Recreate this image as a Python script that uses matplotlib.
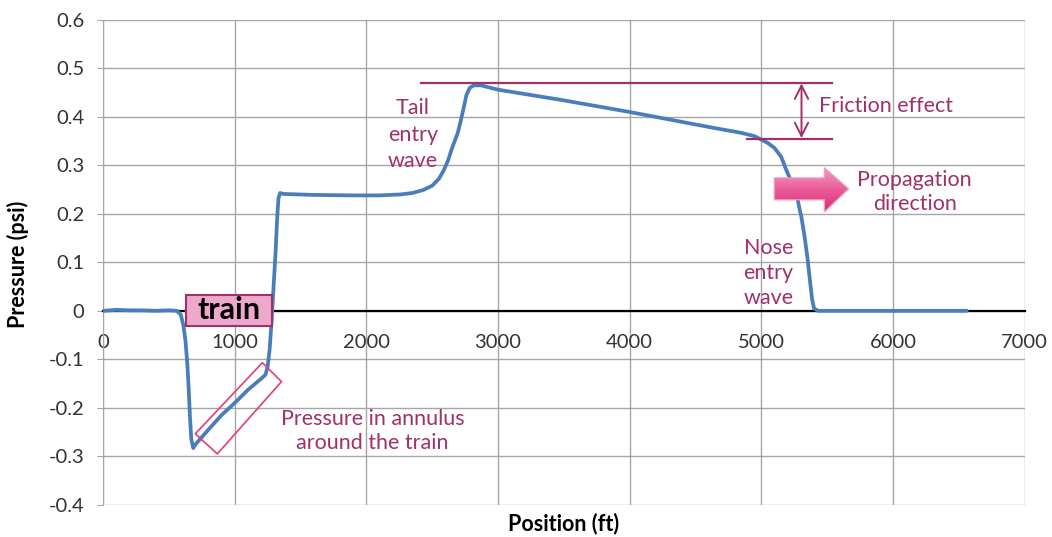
import matplotlib
matplotlib.use("Agg")
import matplotlib.pyplot as plt
import numpy as np
from matplotlib.patches import Polygon, Rectangle

plt.rcParams['font.family'] = ['Lato', 'DejaVu Sans']

# ---- data ----
position = [0, 100, 200, 300, 400, 500, 560, 590, 610, 625, 640, 650, 660, 670,
            685, 700, 800, 900, 1000, 1100, 1200, 1233, 1250, 1265, 1280, 1295,
            1310, 1322, 1332, 1345, 1370, 1600, 1900, 2100, 2260, 2350, 2430,
            2500, 2550, 2588, 2620, 2650, 2694, 2715, 2740, 2760, 2785, 2816,
            2869, 3000, 3478, 4000, 4642, 4848, 4950, 5000, 5050, 5099, 5150,
            5190, 5230, 5266, 5290, 5304, 5330, 5350, 5370, 5385, 5400, 5430,
            6000, 6560]
pressure = [0.0, 0.002, 0.001, 0.001, 0.0, 0.001, 0.0, -0.008, -0.03, -0.06,
            -0.11, -0.16, -0.22, -0.265, -0.283, -0.276, -0.245, -0.215, -0.19,
            -0.163, -0.14, -0.132, -0.115, -0.08, -0.02, 0.05, 0.12, 0.19, 0.232,
            0.243, 0.241, 0.239, 0.238, 0.238, 0.240, 0.243, 0.249, 0.258, 0.272,
            0.29, 0.31, 0.335, 0.367, 0.39, 0.42, 0.445, 0.46, 0.465, 0.465,
            0.456, 0.435, 0.41, 0.377, 0.367, 0.36, 0.353, 0.346, 0.336, 0.318,
            0.29, 0.265, 0.243, 0.21, 0.194, 0.15, 0.11, 0.06, 0.025, 0.005, 0.0,
            0.0, 0.0]

x_ticks = [0, 1000, 2000, 3000, 4000, 5000, 6000, 7000]
y_ticks = [-0.4, -0.3, -0.2, -0.1, 0, 0.1, 0.2, 0.3, 0.4, 0.5, 0.6]
y_ticklabels = ['-0.4', '-0.3', '-0.2', '-0.1', '0', '0.1', '0.2', '0.3', '0.4', '0.5', '0.6']

BLUE = '#4A7EBB'
MAG = '#A0306A'
PINK = '#E23D80'
ANN = 15.5

fig = plt.figure(figsize=(10.52, 5.37), dpi=100)
ax = fig.add_axes([0.098, 0.060, 0.876, 0.903])
ax.set_xlim(0, 7000)
ax.set_ylim(-0.4, 0.6)

ax.set_xticks(x_ticks)
ax.set_yticks(y_ticks)
ax.set_yticklabels(y_ticklabels)
ax.grid(True, color='#A6A6A6', linewidth=1.0)
ax.set_axisbelow(True)

for s in ['top', 'right']:
    ax.spines[s].set_visible(False)
ax.spines['left'].set_color('#A6A6A6')
ax.spines['bottom'].set_position(('data', 0))
ax.spines['bottom'].set_color('black')
ax.spines['bottom'].set_linewidth(1.6)
ax.tick_params(axis='x', length=0, pad=17, labelsize=14.5, labelcolor='#333333')
ax.tick_params(axis='y', length=4.5, color='#A6A6A6', direction='out', pad=9,
               labelsize=14.5, labelcolor='#333333')

ax.plot(position, pressure, color=BLUE, linewidth=2.7, zorder=3,
        solid_joinstyle='round', solid_capstyle='round')

ax.set_ylabel('Pressure (psi)', fontsize=15.5, fontweight='bold')
ax.yaxis.set_label_coords(-0.080, 0.495)
ax.text(0.5, -0.039, 'Position (ft)', transform=ax.transAxes, ha='center',
        va='center', fontsize=15.5, fontweight='bold')

# train label
ax.add_patch(Rectangle((632, -0.031), 654, 0.064, facecolor='#ECA9CB',
                       edgecolor=MAG, linewidth=1.5, zorder=5))
ax.text(959, 0.001, 'train', ha='center', va='center', fontsize=22,
        fontweight='bold', color='black', zorder=6)

# rotated box around annulus segment
box = Polygon([(700, -0.2536), (1210, -0.107), (1355, -0.146), (868, -0.295)],
              closed=True, fill=False, edgecolor=PINK, linewidth=1.2,
              joinstyle='round', zorder=4)
ax.add_patch(box)
ax.text(2047, -0.247, 'Pressure in annulus\naround the train', ha='center',
        va='center', fontsize=ANN, color=MAG, linespacing=1.25)

ax.text(2352, 0.363, 'Tail\nentry\nwave', ha='center', va='center',
        fontsize=ANN, color=MAG, linespacing=1.4)
ax.text(5053, 0.078, 'Nose\nentry\nwave', ha='center', va='center',
        fontsize=ANN, color=MAG, linespacing=1.3)

# friction effect lines
ax.plot([2412, 5533], [0.47, 0.47], color=MAG, linewidth=1.6, zorder=4)
ax.plot([4893, 5533], [0.355, 0.355], color=MAG, linewidth=1.6, zorder=4)
ax.annotate('', xy=(5305, 0.469), xytext=(5305, 0.356),
            arrowprops=dict(arrowstyle='<->', color=MAG, lw=1.4,
                            mutation_scale=24, shrinkA=0, shrinkB=0))
ax.text(5441, 0.423, 'Friction effect', ha='left', va='center', fontsize=ANN,
        color=MAG)

# propagation arrow with gradient fill
arrow_xy = [(5099, 0.274), (5479, 0.274), (5479, 0.295), (5662, 0.2515),
            (5479, 0.204), (5479, 0.229), (5099, 0.229)]
arrow = Polygon(arrow_xy, closed=True, facecolor='none', edgecolor='#EE9CC0',
                linewidth=1.0, zorder=6)
ax.add_patch(arrow)
grad = np.linspace(0, 1, 64).reshape(-1, 1)
cmap = matplotlib.colors.LinearSegmentedColormap.from_list(
    'pk', ['#D62A72', '#EC5C9A', '#F59AC2'])
im = ax.imshow(grad, extent=(5099, 5662, 0.204, 0.295), origin='lower',
               cmap=cmap, aspect='auto', zorder=5)
clip = Polygon(arrow_xy, closed=True, transform=ax.transData)
im.set_clip_path(clip)
ax.set_xlim(0, 7000)
ax.set_ylim(-0.4, 0.6)
ax.text(6164, 0.245, 'Propagation\ndirection', ha='center', va='center',
        fontsize=ANN, color=MAG, linespacing=1.2)

fig.savefig('out.png', dpi=100)
